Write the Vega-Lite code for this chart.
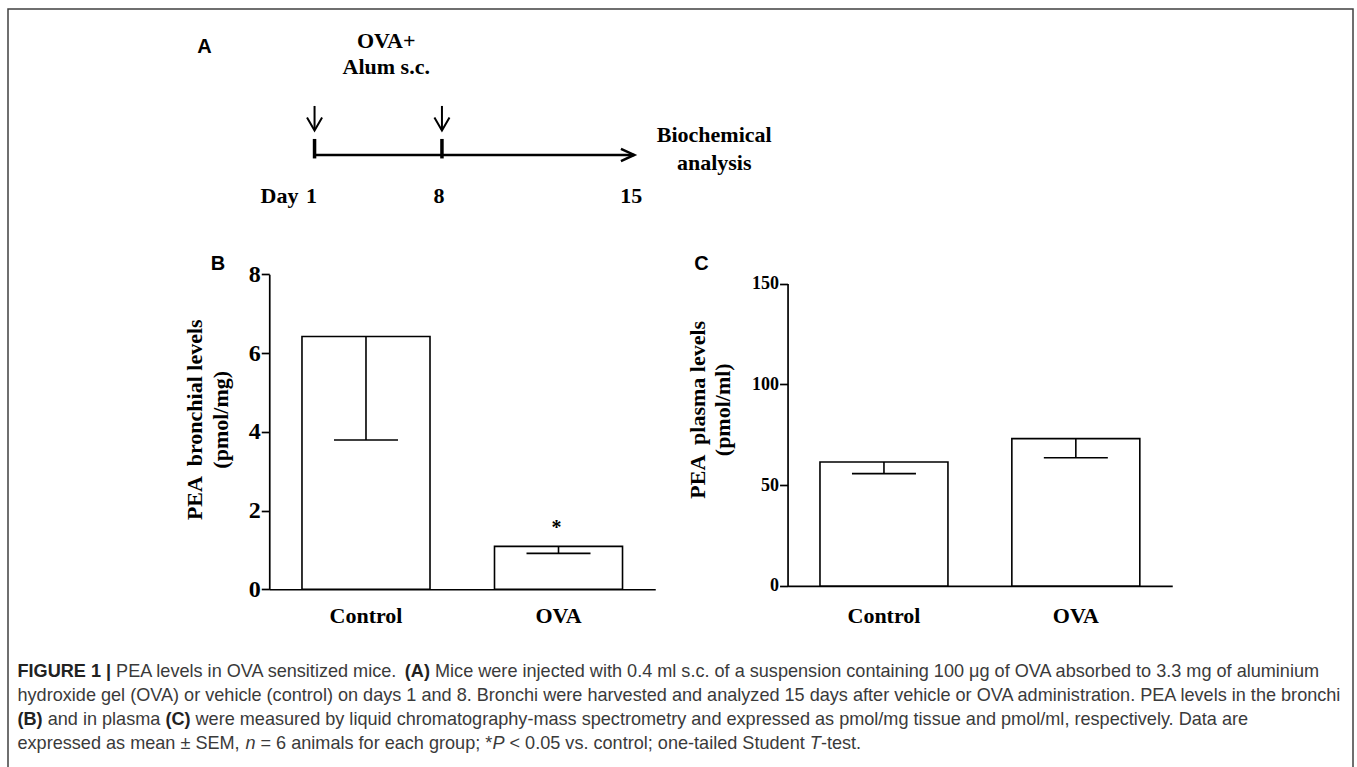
{
  "$schema": "https://vega.github.io/schema/vega-lite/v6.json",
  "width": 1345,
  "height": 770,
  "padding": {"left": 8, "top": 9, "right": 2, "bottom": 0},
  "background": "white",
  "config": {
    "view": {"stroke": "#404040", "strokeWidth": 1.5},
    "axis": {"domainColor": "black", "tickColor": "black", "labelColor": "black", "titleColor": "black", "grid": false},
    "text": {"color": "black"}
  },
  "resolve": {"scale": {"x": "independent", "y": "independent"}, "axis": {"x": "independent", "y": "independent"}},
  "layer": [
    {
      "layer": [
        {
          "data": {"values": [{"start": 1, "end": 15}]},
          "mark": {"type": "rule", "strokeWidth": 2.6, "color": "black"},
          "encoding": {
            "x": {"field": "start", "type": "quantitative", "scale": {"domain": [1, 8, 15], "range": [306.55, 433.95, 626.25], "zero": false, "nice": false}, "axis": null},
            "x2": {"field": "end"},
            "y": {"datum": 0, "type": "quantitative", "scale": {"domain": [-50, 145], "range": [195.95, 0.95], "zero": false, "nice": false}, "axis": null}
          }
        },
        {
          "data": {"values": [{"day": 1, "event": "OVA+Alum"}, {"day": 8, "event": "OVA+Alum"}]},
          "mark": {"type": "rule", "strokeWidth": 3.5, "color": "black"},
          "encoding": {
            "x": {"field": "day", "type": "quantitative", "axis": null},
            "y": {"datum": 16, "type": "quantitative", "axis": null},
            "y2": {"datum": -3.5}
          }
        },
        {
          "data": {"values": [{"day": 1, "event": "OVA+Alum"}, {"day": 8, "event": "OVA+Alum"}]},
          "mark": {"type": "rule", "strokeWidth": 2, "color": "black"},
          "encoding": {
            "x": {"field": "day", "type": "quantitative", "axis": null},
            "y": {"datum": 49, "type": "quantitative", "axis": null},
            "y2": {"datum": 25}
          }
        },
        {
          "data": {"values": [{"day": 1, "event": "OVA+Alum"}, {"day": 8, "event": "OVA+Alum"}]},
          "mark": {"type": "point", "shape": "M-0.58,-1L0,0L0.58,-1", "size": 676, "filled": false, "strokeWidth": 2, "color": "black", "opacity": 1},
          "encoding": {
            "x": {"field": "day", "type": "quantitative", "axis": null},
            "y": {"datum": 24.5, "type": "quantitative", "axis": null}
          }
        },
        {
          "data": {"values": [{"day": 15}]},
          "mark": {"type": "point", "shape": "M-1,-0.46L0,0L-1,0.46", "size": 708, "filled": false, "strokeWidth": 2.5, "color": "black", "opacity": 1},
          "encoding": {
            "x": {"field": "day", "type": "quantitative", "axis": null},
            "y": {"datum": 0, "type": "quantitative", "axis": null}
          }
        },
        {
          "data": {"values": [{"label": "OVA+\nAlum s.c."}]},
          "mark": {"type": "text", "font": "Liberation Serif", "fontWeight": "bold", "fontSize": 22, "lineBreak": "\n", "lineHeight": 26, "baseline": "middle", "align": "center", "dx": 8},
          "encoding": {
            "x": {"datum": 4.5, "type": "quantitative", "axis": null},
            "y": {"datum": 113.7, "type": "quantitative", "axis": null},
            "text": {"field": "label"}
          }
        },
        {
          "data": {"values": [{"label": "Biochemical\nanalysis", "day": 15}]},
          "mark": {"type": "text", "font": "Liberation Serif", "fontWeight": "bold", "fontSize": 22, "lineBreak": "\n", "lineHeight": 27.7, "baseline": "middle", "align": "center", "dx": 80},
          "encoding": {
            "x": {"field": "day", "type": "quantitative", "axis": null},
            "y": {"datum": 19.7, "type": "quantitative", "axis": null},
            "text": {"field": "label"}
          }
        },
        {
          "data": {"values": [{"day": 1, "label": "1"}, {"day": 8, "label": "8"}, {"day": 15, "label": "15"}]},
          "mark": {"type": "text", "font": "Liberation Serif", "fontWeight": "bold", "fontSize": 22, "baseline": "middle", "align": "center", "dx": -3},
          "encoding": {
            "x": {"field": "day", "type": "quantitative", "axis": null},
            "y": {"datum": -41.3, "type": "quantitative", "axis": null},
            "text": {"field": "label"}
          }
        },
        {
          "data": {"values": [{"day": 1, "label": "Day"}]},
          "mark": {"type": "text", "font": "Liberation Serif", "fontWeight": "bold", "fontSize": 22, "baseline": "middle", "align": "center", "dx": -35},
          "encoding": {
            "x": {"field": "day", "type": "quantitative", "axis": null},
            "y": {"datum": -41.3, "type": "quantitative", "axis": null},
            "text": {"field": "label"}
          }
        },
        {
          "data": {"values": [{"day": 1, "label": "A"}]},
          "mark": {"type": "text", "font": "Liberation Sans", "fontWeight": "bold", "fontSize": 20, "baseline": "middle", "align": "center", "dx": -110},
          "encoding": {
            "x": {"field": "day", "type": "quantitative", "axis": null},
            "y": {"datum": 107.7, "type": "quantitative", "axis": null},
            "text": {"field": "label"}
          }
        }
      ]
    },
    {
      "data": {"values": [
        {"group": "Control", "mean": 6.42, "lower": 3.79, "sig": ""},
        {"group": "OVA", "mean": 1.09, "lower": 0.91, "sig": "*"}
      ]},
      "encoding": {
        "x": {
          "field": "group", "type": "nominal", "sort": ["Control", "OVA"],
          "scale": {"range": [261.25, 647.25], "paddingInner": 0.335, "paddingOuter": 0.17},
          "axis": {"orient": "bottom", "offset": -189.75, "title": null, "labelAngle": 0, "ticks": false, "tickSize": 0, "labelPadding": 16, "labelFont": "Liberation Serif", "labelFontWeight": "bold", "labelFontSize": 22, "domainWidth": 1.7}
        }
      },
      "layer": [
        {
          "mark": {"type": "bar", "fill": "white", "stroke": "black", "strokeWidth": 1.6},
          "encoding": {
            "y": {
              "field": "mean", "type": "quantitative",
              "scale": {"domain": [0, 8], "range": [580.25, 265.25], "nice": false},
              "axis": {
                "orient": "left", "offset": -261.25, "format": "d",
                "values": [0, 2, 4, 6, 8], "tickSize": 8, "tickWidth": 1.7, "domainWidth": 1.7, "labelPadding": 1,
                "labelFont": "Liberation Serif", "labelFontWeight": "bold", "labelFontSize": 24,
                "title": ["PEA \u00a0bronchial levels", "(pmol/mg)"],
                "titleFont": "Liberation Serif", "titleFontWeight": "bold", "titleFontSize": 22, "titleLineHeight": 26,
                "titleAngle": -90, "titleBaseline": "middle", "titleAlign": "center", "titleX": -75, "titleY": 410.25
              }
            }
          }
        },
        {
          "mark": {"type": "rule", "strokeWidth": 1.6, "color": "black"},
          "encoding": {
            "y": {"field": "mean", "type": "quantitative"},
            "y2": {"field": "lower"}
          }
        },
        {
          "mark": {"type": "tick", "size": 64, "thickness": 1.6, "color": "black", "opacity": 1},
          "encoding": {"y": {"field": "lower", "type": "quantitative"}}
        },
        {
          "mark": {"type": "text", "font": "Liberation Serif", "fontWeight": "bold", "fontSize": 20, "baseline": "alphabetic", "dy": -12, "dx": -2},
          "encoding": {
            "y": {"field": "mean", "type": "quantitative"},
            "text": {"field": "sig"}
          }
        },
        {
          "data": {"values": [{"group": "Control", "panel": "B"}]},
          "mark": {"type": "text", "font": "Liberation Sans", "fontWeight": "bold", "fontSize": 20, "baseline": "middle", "align": "center", "dx": -148},
          "encoding": {
            "y": {"datum": 8.25, "type": "quantitative"},
            "text": {"field": "panel"}
          }
        }
      ]
    },
    {
      "data": {"values": [
        {"group": "Control", "mean": 61.5, "lower": 55.7},
        {"group": "OVA", "mean": 73.1, "lower": 63.6}
      ]},
      "encoding": {
        "x": {
          "field": "group", "type": "nominal", "sort": ["Control", "OVA"],
          "scale": {"range": [779.55, 1164.25], "paddingInner": 0.333, "paddingOuter": 0.169},
          "axis": {"orient": "bottom", "offset": -193.05, "title": null, "labelAngle": 0, "ticks": false, "tickSize": 0, "labelPadding": 20, "labelFont": "Liberation Serif", "labelFontWeight": "bold", "labelFontSize": 22, "domainWidth": 1.7}
        }
      },
      "layer": [
        {
          "mark": {"type": "bar", "fill": "white", "stroke": "black", "strokeWidth": 1.6},
          "encoding": {
            "y": {
              "field": "mean", "type": "quantitative",
              "scale": {"domain": [0, 150], "range": [576.95, 274.55], "nice": false},
              "axis": {
                "orient": "left", "offset": -779.55, "format": "d",
                "values": [0, 50, 100, 150], "tickSize": 8, "tickWidth": 1.7, "domainWidth": 1.7, "labelPadding": 1,
                "labelFont": "Liberation Serif", "labelFontWeight": "bold", "labelFontSize": 18,
                "title": ["PEA \u00a0plasma levels", "(pmol/ml)"],
                "titleFont": "Liberation Serif", "titleFontWeight": "bold", "titleFontSize": 22, "titleLineHeight": 25,
                "titleAngle": -90, "titleBaseline": "middle", "titleAlign": "center", "titleX": -90.3, "titleY": 400.25
              }
            }
          }
        },
        {
          "mark": {"type": "rule", "strokeWidth": 1.6, "color": "black"},
          "encoding": {
            "y": {"field": "mean", "type": "quantitative"},
            "y2": {"field": "lower"}
          }
        },
        {
          "mark": {"type": "tick", "size": 64, "thickness": 1.6, "color": "black", "opacity": 1},
          "encoding": {"y": {"field": "lower", "type": "quantitative"}}
        },
        {
          "data": {"values": [{"group": "Control", "panel": "C"}]},
          "mark": {"type": "text", "font": "Liberation Sans", "fontWeight": "bold", "fontSize": 20, "baseline": "middle", "align": "center", "dx": -182.6},
          "encoding": {
            "y": {"datum": 159.6, "type": "quantitative"},
            "text": {"field": "panel"}
          }
        }
      ]
    },
    {
      "encoding": {
        "y": {"field": "line", "type": "ordinal", "scale": {"type": "point", "domain": [1, 2, 3, 4], "range": [663.25, 735.25], "padding": 0}, "axis": null},
        "text": {"field": "text"}
      },
      "layer": [
        {
          "data": {"values": [{"line": 1, "text": "FIGURE 1 |"}, {"line": 3, "text": "(B)"}]},
          "mark": {"type": "text", "align": "left", "baseline": "middle", "font": "Liberation Sans", "fontWeight": "bold", "fontSize": 18.1, "color": "#222", "x": 9.5, "dx": 0}
        },
        {
          "data": {"values": [
            {"line": 2, "text": "hydroxide gel (OVA) or vehicle (control) on days 1 and 8. Bronchi were harvested and analyzed 15 days after vehicle or OVA administration. PEA levels in the bronchi"},
            {"line": 4, "text": "expressed as mean ± SEM,"}
          ]},
          "mark": {"type": "text", "align": "left", "baseline": "middle", "font": "Liberation Sans", "fontSize": 18.1, "color": "#3a3a3a", "x": 9.5, "dx": 0}
        },
        {
          "data": {"values": [{"line": 1, "text": "PEA levels in OVA sensitized mice."}]},
          "mark": {"type": "text", "align": "left", "baseline": "middle", "font": "Liberation Sans", "fontSize": 18.1, "color": "#3a3a3a", "x": 9.5, "dx": 98.6}
        },
        {
          "data": {"values": [{"line": 1, "text": "(A)"}]},
          "mark": {"type": "text", "align": "left", "baseline": "middle", "font": "Liberation Sans", "fontWeight": "bold", "fontSize": 18.1, "color": "#222", "x": 9.5, "dx": 387.3}
        },
        {
          "data": {"values": [{"line": 1, "text": "Mice were injected with 0.4 ml s.c. of a suspension containing 100 μg of OVA absorbed to 3.3 mg of aluminium"}]},
          "mark": {"type": "text", "align": "left", "baseline": "middle", "font": "Liberation Sans", "fontSize": 18.1, "color": "#3a3a3a", "x": 9.5, "dx": 417.5}
        },
        {
          "data": {"values": [{"line": 3, "text": "and in plasma"}]},
          "mark": {"type": "text", "align": "left", "baseline": "middle", "font": "Liberation Sans", "fontSize": 18.1, "color": "#3a3a3a", "x": 9.5, "dx": 30.2}
        },
        {
          "data": {"values": [{"line": 3, "text": "(C)"}]},
          "mark": {"type": "text", "align": "left", "baseline": "middle", "font": "Liberation Sans", "fontWeight": "bold", "fontSize": 18.1, "color": "#222", "x": 9.5, "dx": 147.9}
        },
        {
          "data": {"values": [{"line": 3, "text": "were measured by liquid chromatography-mass spectrometry and expressed as pmol/mg tissue and pmol/ml, respectively. Data are"}]},
          "mark": {"type": "text", "align": "left", "baseline": "middle", "font": "Liberation Sans", "fontSize": 18.1, "color": "#3a3a3a", "x": 9.5, "dx": 178.0}
        },
        {
          "data": {"values": [{"line": 4, "text": "n"}]},
          "mark": {"type": "text", "align": "left", "baseline": "middle", "font": "Liberation Sans", "fontStyle": "italic", "fontSize": 18.1, "color": "#3a3a3a", "x": 9.5, "dx": 227.9}
        },
        {
          "data": {"values": [{"line": 4, "text": "= 6 animals for each group; *"}]},
          "mark": {"type": "text", "align": "left", "baseline": "middle", "font": "Liberation Sans", "fontSize": 18.1, "color": "#3a3a3a", "x": 9.5, "dx": 243.0}
        },
        {
          "data": {"values": [{"line": 4, "text": "P"}]},
          "mark": {"type": "text", "align": "left", "baseline": "middle", "font": "Liberation Sans", "fontStyle": "italic", "fontSize": 18.1, "color": "#3a3a3a", "x": 9.5, "dx": 474.9}
        },
        {
          "data": {"values": [{"line": 4, "text": "< 0.05 vs. control; one-tailed Student"}]},
          "mark": {"type": "text", "align": "left", "baseline": "middle", "font": "Liberation Sans", "fontSize": 18.1, "color": "#3a3a3a", "x": 9.5, "dx": 492.0}
        },
        {
          "data": {"values": [{"line": 4, "text": "T"}]},
          "mark": {"type": "text", "align": "left", "baseline": "middle", "font": "Liberation Sans", "fontStyle": "italic", "fontSize": 18.1, "color": "#3a3a3a", "x": 9.5, "dx": 792.3}
        },
        {
          "data": {"values": [{"line": 4, "text": "-test."}]},
          "mark": {"type": "text", "align": "left", "baseline": "middle", "font": "Liberation Sans", "fontSize": 18.1, "color": "#3a3a3a", "x": 9.5, "dx": 803.4}
        }
      ]
    }
  ]
}
